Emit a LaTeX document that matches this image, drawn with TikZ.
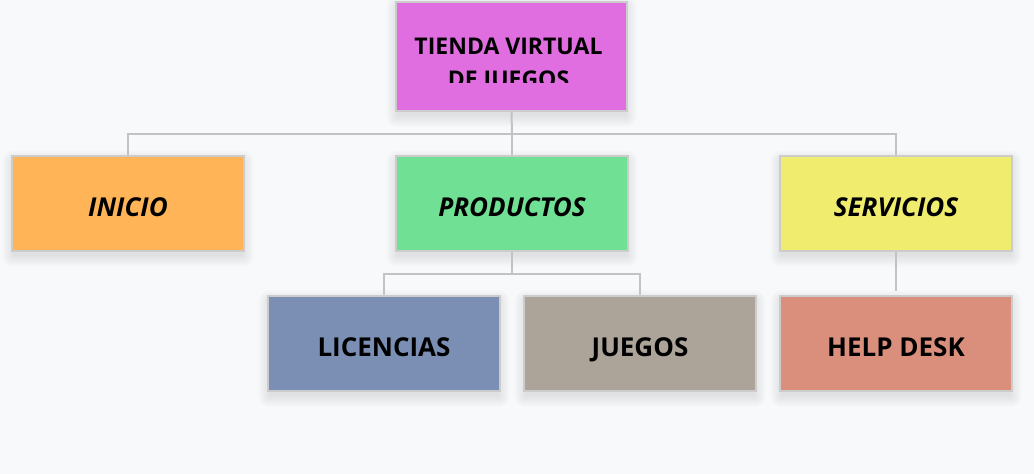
\documentclass[tikz,border=0pt]{standalone}
\usepackage{fontspec}
\setmainfont{Open Sans}
\usetikzlibrary{calc,backgrounds}
\definecolor{bgc}{HTML}{F8F9FB}
\definecolor{linec}{HTML}{C3C3C3}
\definecolor{borderc}{HTML}{CCCCCC}
\definecolor{cTop}{HTML}{E06EE0}
\definecolor{cIni}{HTML}{FFB557}
\definecolor{cPro}{HTML}{70E094}
\definecolor{cSer}{HTML}{F0EC6E}
\definecolor{cLic}{HTML}{7B8FB5}
\definecolor{cJue}{HTML}{ACA399}
\definecolor{cHel}{HTML}{DA8F7D}
\tikzset{
  boxn/.style={draw=borderc, line width=2pt, minimum width=232pt, minimum height=95pt,
    inner sep=0pt, text height=25pt, text depth=0pt,
    font=\fontsize{26}{30}\selectfont\bfseries},
  ital/.style={font=\fontsize{26}{30}\selectfont\bfseries\itshape},
  conn/.style={draw=linec, line width=2pt},
  shadowlayer/.style={fill=black, fill opacity=0.007}
}
\begin{document}
\begin{tikzpicture}[x=1pt,y=-1pt]
\begin{scope}[on background layer]
\fill[bgc] (0,0) rectangle (1034,474);
\end{scope}
\useasboundingbox (0,0) rectangle (1034,474);
% top node
\node[boxn, fill=cTop, minimum width=231pt, minimum height=109pt] (top) at (511.5,56.5) {};
\begin{scope}
\clip (396,2) rectangle (627,82);
\node[anchor=base, align=center, inner sep=0pt, font=\fontsize{23}{33}\selectfont\bfseries] (toptext) at (508.5,87) {TIENDA VIRTUAL\\DE JUEGOS};
\end{scope}
% level 1
\node[boxn, ital, fill=cIni] (ini) at (128,203.5) {INICIO};
\node[boxn, ital, fill=cPro] (pro) at (512,203.5) {PRODUCTOS};
\node[boxn, ital, fill=cSer] (ser) at (896,203.5) {SERVICIOS};
% level 2
\node[boxn, fill=cLic] (lic) at (384,343.5) {LICENCIAS};
\node[boxn, fill=cJue] (jue) at (640,343.5) {JUEGOS};
\node[boxn, fill=cHel] (hel) at (896,343.5) {HELP DESK};
% soft shadows
\begin{scope}[on background layer]
\foreach \n in {top,ini,pro,ser,lic,jue,hel}{
  \foreach \s in {0,...,11}{
    \fill[shadowlayer, rounded corners=\s pt] ($(\n.north west)+(-\s+2,6-\s)$) rectangle ($(\n.south east)+(\s-2,4+\s)$);
  }
}
\end{scope}
% connectors
\coordinate (j1) at (512,134);
\coordinate (j2) at (512,274);
\draw[conn] (top.south) -- (j1);
\draw[conn] (j1) -| (ini.north);
\draw[conn] (j1) -| (ser.north);
\draw[conn] (j1) -- (pro.north);
\draw[conn] (pro.south) -- (j2);
\draw[conn] (j2) -| (lic.north);
\draw[conn] (j2) -| (jue.north);
\draw[conn] (ser.south) -- ([yshift=-39pt]ser.south);
\end{tikzpicture}
\end{document}
